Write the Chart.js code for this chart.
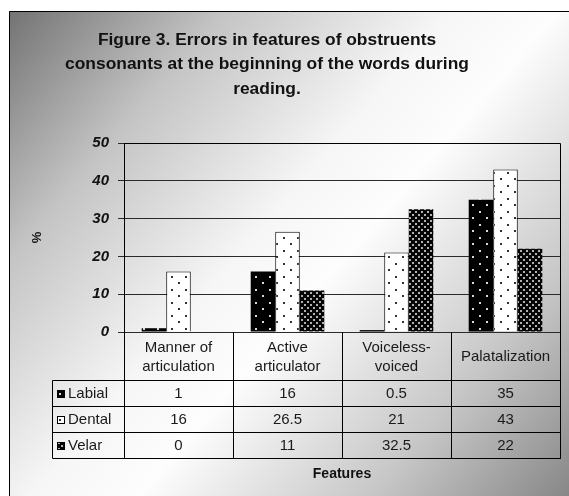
<!DOCTYPE html>
<html><head><meta charset="utf-8">
<script src="https://cdn.jsdelivr.net/npm/chart.js@4/dist/chart.umd.min.js"></script>
<style>html,body{margin:0;padding:0;background:#fff}#wrap{width:569px;height:496px;position:relative}canvas{display:block}</style>
</head><body><div id="wrap"><canvas id="c" width="569" height="496"></canvas></div>
<script>
const titleLines = ["Figure 3. Errors in features of obstruents", "consonants at the beginning of the words during", "reading."];
const categories = [["Manner of", "articulation"], ["Active", "articulator"], ["Voiceless-", "voiced"], ["Palatalization"]];
const seriesNames = ["Labial", "Dental", "Velar"];
const labial = [1, 16, 0.5, 35];
const dental = [16, 26.5, 21, 43];
const velar = [0, 11, 32.5, 22];
const yTicks = [0, 10, 20, 30, 40, 50];
const yAxisTitle = "%";
const xAxisTitle = "Features";

const FONT = "'Liberation Sans', Arial, sans-serif";

function makePattern(bg, dot, w, h, dots, size) {
  const c = document.createElement('canvas');
  c.width = w; c.height = h;
  const g = c.getContext('2d');
  g.fillStyle = bg; g.fillRect(0, 0, w, h);
  g.fillStyle = dot;
  dots.forEach(p => g.fillRect(p[0], p[1], size, size));
  return g.createPattern(c, 'repeat');
}
const patLabial = makePattern('#000', '#d8d8d8', 14, 13, [[3, 3], [10, 9]], 2);
const patDental = makePattern('#fff', '#333', 14, 13, [[3, 3], [10, 9]], 2);
const patVelar = makePattern('#050505', '#b0b0b0', 6, 6, [[1, 1], [4, 4]], 2);
const patterns = [patLabial, patDental, patVelar];
const seriesData = [labial, dental, velar];

const bgPlugin = {
  id: 'bg',
  beforeDraw(chart) {
    const c = chart.ctx;
    c.save();
    c.fillStyle = '#fff';
    c.fillRect(0, 0, chart.width, chart.height);
    const g = c.createLinearGradient(9, 11, 569, 496);
    g.addColorStop(0, '#737373');
    g.addColorStop(0.22, '#c4c4c4');
    g.addColorStop(0.45, '#f6f6f6');
    g.addColorStop(0.56, '#fdfdfd');
    g.addColorStop(0.8, '#c6c6c6');
    g.addColorStop(1, '#878787');
    c.fillStyle = g;
    c.fillRect(9, 11, chart.width - 9, chart.height - 11);
    c.strokeStyle = '#000';
    c.lineWidth = 1;
    c.beginPath();
    c.moveTo(9.5, chart.height);
    c.lineTo(9.5, 11.5);
    c.lineTo(chart.width, 11.5);
    c.stroke();
    // title
    c.fillStyle = '#111';
    c.font = 'bold 17.4px ' + FONT;
    c.textAlign = 'center';
    c.textBaseline = 'middle';
    titleLines.forEach((t, i) => c.fillText(t, 267, 40 + i * 24.5));
    c.restore();
  }
};

const tablePlugin = {
  id: 'table',
  afterDraw(chart) {
    const c = chart.ctx;
    const x = chart.scales.x;
    const a = chart.chartArea;
    const n = categories.length;
    const colW = (x.getPixelForValue(1) - x.getPixelForValue(0));
    const left = a.left, right = a.right, top = a.bottom;
    const headerH = 48, rowH = 26;
    const legendLeft = 52.5;
    c.save();
    c.strokeStyle = '#000';
    c.lineWidth = 1;
    // plot frame top & right
    c.beginPath();
    c.moveTo(Math.round(left) + 0.5, Math.round(a.top) + 0.5);
    c.lineTo(Math.round(right) + 0.5, Math.round(a.top) + 0.5);
    c.lineTo(Math.round(right) + 0.5, Math.round(top) + 0.5);
    c.stroke();
    const rowsY = [top + headerH];
    for (let r = 1; r <= seriesNames.length; r++) rowsY.push(top + headerH + r * rowH);
    const bottom = rowsY[rowsY.length - 1];
    c.beginPath();
    for (let i = 0; i <= n; i++) {
      const px = Math.round(left + i * colW) + 0.5;
      c.moveTo(px, Math.round(top));
      c.lineTo(px, Math.round(bottom) + 0.5);
    }
    c.moveTo(legendLeft, Math.round(rowsY[0]) + 0.5);
    c.lineTo(legendLeft, Math.round(bottom) + 0.5);
    rowsY.forEach(y => {
      c.moveTo(legendLeft, Math.round(y) + 0.5);
      c.lineTo(Math.round(right) + 1, Math.round(y) + 0.5);
    });
    c.stroke();
    // header text
    c.fillStyle = '#1a1a1a';
    c.font = '15px ' + FONT;
    c.textAlign = 'center';
    c.textBaseline = 'middle';
    categories.forEach((lines, i) => {
      const cx = x.getPixelForValue(i);
      const cy = top + headerH / 2 + 1;
      const lh = 19;
      lines.forEach((t, k) => c.fillText(t, cx, cy + (k - (lines.length - 1) / 2) * lh));
    });
    // rows
    seriesNames.forEach((name, r) => {
      const cy = rowsY[r] + rowH / 2 + 1;
      seriesData[r].forEach((v, i) => c.fillText(String(v), x.getPixelForValue(i), cy));
      // legend key
      c.fillStyle = patterns[r];
      c.fillRect(57, Math.round(cy) - 4, 8, 8);
      c.strokeStyle = '#000';
      c.strokeRect(57.5, Math.round(cy) - 3.5, 7, 7);
      c.fillStyle = '#1a1a1a';
      c.textAlign = 'left';
      c.fillText(name, 68, cy);
      c.textAlign = 'center';
    });
    // x title
    c.font = 'bold 14px ' + FONT;
    c.fillStyle = '#111';
    c.fillText(xAxisTitle, (left + right) / 2, 474);
    c.restore();
  }
};

new Chart(document.getElementById('c'), {
  type: 'bar',
  data: {
    labels: categories.map(l => l.join(' ')),
    datasets: seriesNames.map((name, i) => ({
      label: name,
      data: seriesData[i],
      backgroundColor: patterns[i],
      borderColor: i === 1 ? '#000' : '#444',
      borderWidth: i === 1 ? 1 : 0,
      categoryPercentage: 0.675,
      barPercentage: 1.0
    }))
  },
  options: {
    responsive: false,
    animation: false,
    events: [],
    devicePixelRatio: 1,
    layout: { padding: { left: 20, top: 143, right: 9, bottom: 164 } },
    plugins: { legend: { display: false }, title: { display: false }, tooltip: { enabled: false } },
    scales: {
      x: { display: false },
      y: {
        min: 0, max: 50,
        afterFit(s) { s.width = 104; },
        afterBuildTicks(s) { s.ticks = yTicks.map(v => ({ value: v })); },
        ticks: { color: '#111', padding: 9, font: { family: FONT, size: 15, weight: 'bold', style: 'italic' } },
        grid: { color: '#2a2a2a', lineWidth: 1, tickLength: 6, drawTicks: true },
        border: { display: true, color: '#000', width: 1 },
        title: { display: true, text: yAxisTitle, color: '#111', padding: { top: 10, bottom: 0 }, font: { family: FONT, size: 13, weight: 'bold' } }
      }
    }
  },
  plugins: [bgPlugin, tablePlugin]
});
</script>
</body></html>
